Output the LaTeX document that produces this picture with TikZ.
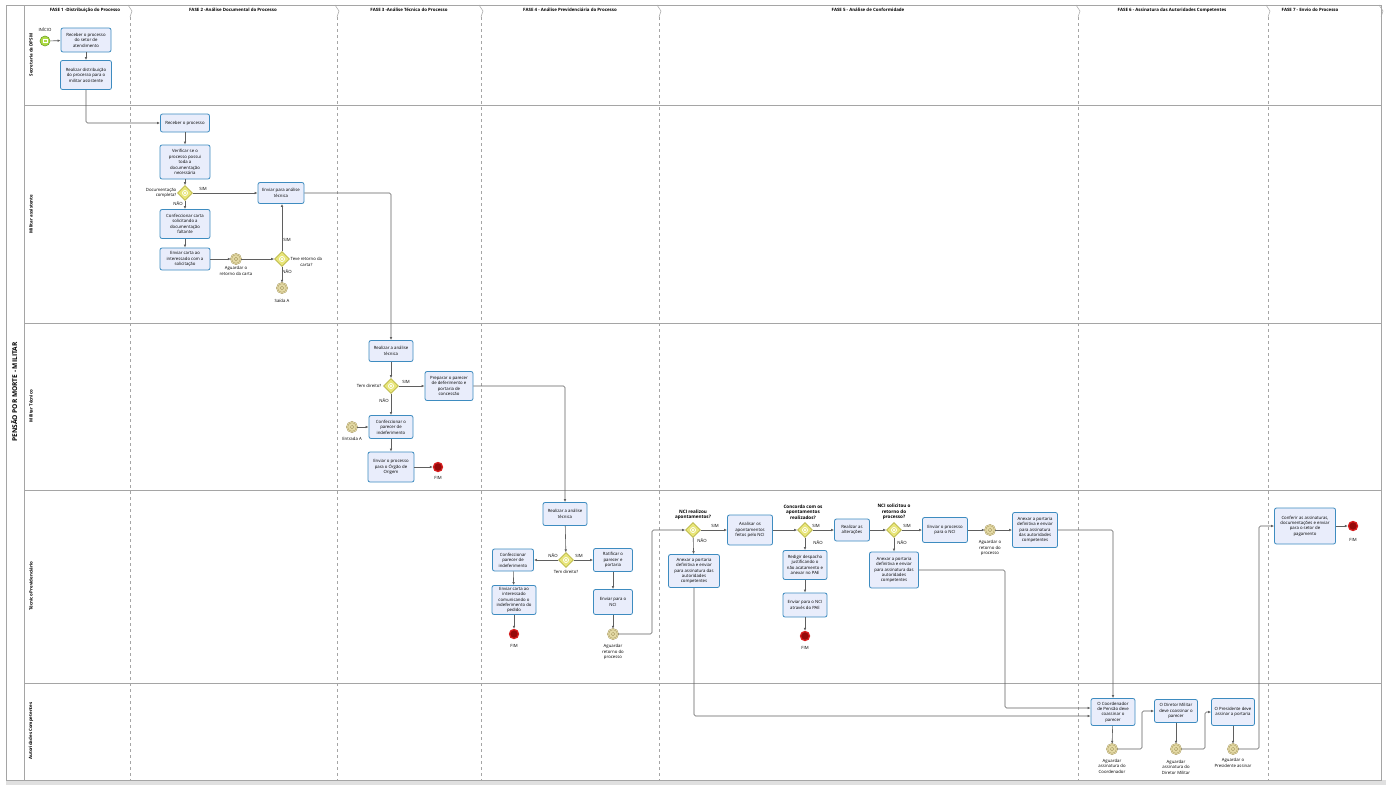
\documentclass[tikz,border=0pt]{standalone}
\usepackage{fontspec}
\setmainfont{Open Sans}
\usetikzlibrary{shapes.geometric,arrows.meta}

\definecolor{taskfill}{RGB}{233,237,251}
\definecolor{taskline}{RGB}{62,140,192}
\definecolor{gatefill}{RGB}{232,229,120}
\definecolor{gateline}{RGB}{185,182,70}
\definecolor{evfill}{RGB}{228,218,165}
\definecolor{evline}{RGB}{165,150,95}
\definecolor{endfill}{RGB}{150,10,10}
\definecolor{endline}{RGB}{215,30,30}
\definecolor{startfill}{RGB}{175,220,70}
\definecolor{startline}{RGB}{110,160,40}
\definecolor{flowline}{RGB}{95,95,95}
\definecolor{poolline}{RGB}{165,165,165}

\newcommand{\bpmnfont}{\fontsize{4.3}{5.4}\selectfont}
\newcommand{\askfont}{\fontsize{4.6}{5.3}\selectfont\bfseries}
\newcommand{\phasefont}{\fontsize{4.4}{5.4}\selectfont\bfseries}
\newcommand{\poolfont}{\fontsize{6.6}{8}\selectfont\bfseries}

\begin{document}
\begin{tikzpicture}[x=1pt,y=-1pt,
  task/.style={draw=taskline,line width=0.8pt,fill=taskfill,rounded corners=2pt,align=center,inner sep=1pt,font=\bpmnfont},
  gate/.style={diamond,draw=gateline,fill=gatefill,line width=0.6pt,minimum size=15pt,inner sep=0pt,
    path picture={\draw[white,line width=0.6pt] (path picture bounding box.center) circle (2.6pt);
      \draw[white,line width=0.5pt] (path picture bounding box.center) +(-1.4pt,-1.4pt) -- +(1.4pt,1.4pt) +(-1.4pt,1.4pt) -- +(1.4pt,-1.4pt);}},
  wait/.style={circle,draw=evline,fill=evfill,line width=0.4pt,double=evfill,double distance=0.8pt,minimum size=10pt,inner sep=0pt,
    path picture={\draw[evline,line width=0.3pt] (path picture bounding box.center) circle (1.8pt);}},
  stop/.style={circle,draw=endline,fill=endfill,line width=1.3pt,minimum size=9pt,inner sep=0pt},
  startev/.style={circle,draw=startline,fill=startfill,line width=0.6pt,minimum size=10pt,inner sep=0pt,
    path picture={\draw[white,line width=0.4pt] ([shift={(-2pt,-1.4pt)}]path picture bounding box.center) rectangle ++(4pt,2.8pt);}},
  lbl/.style={font=\bpmnfont,align=center,inner sep=0.5pt},
  ask/.style={font=\askfont,align=center,inner sep=0.5pt},
  lanetitle/.style={font=\phasefont,rotate=90,inner sep=0.5pt},
  flow/.style={-{Latex[length=3pt,width=2.6pt]},draw=flowline,line width=0.6pt,rounded corners=1.5pt},
  phase/.style={draw=poolline,dashed,line width=0.5pt}]

\useasboundingbox (0,0) rectangle (1386,785);
\fill[white] (0,0) rectangle (1386,785);

% pool, lanes and phases
\fill[black!12] (6,780) rectangle (1386,785);
\draw[poolline,line width=0.6pt] (6,5) rectangle (1381,780);
\draw[poolline,line width=0.6pt] (24,5) -- (24,780);
\foreach \y in {105,323,490,683}
  \draw[poolline,line width=0.6pt] (24,\y) -- (1381,\y);
\foreach \x in {130,337,481,659,1078,1268} {
  \draw[poolline,line width=0.5pt] (\x-2,5) -- (\x+2,11) -- (\x,17);
  \draw[phase] (\x,17) -- (\x,780);
}
\draw[poolline,line width=0.5pt] (1379,5) -- (1383,11) -- (1381,17);

\node[font=\poolfont,rotate=90] (pool) at (14,392) {PENSÃO POR MORTE - MILITAR};
\node[lanetitle] (laneDPSM) at (31,55) {Secretaria da DPSM};
\node[lanetitle] (laneAssist) at (31,214) {Militar assistente};
\node[lanetitle] (laneTec) at (31,406) {Militar Técnico};
\node[lanetitle] (lanePrev) at (31,586) {Técnico Previdenciário};
\node[lanetitle] (laneAut) at (31,731) {Autoridades Competentes};

\node[font=\phasefont] (fase1) at (85,10) {FASE 1 -Distribuição do Processo};
\node[font=\phasefont] (fase2) at (233,10) {FASE 2 -Análise Documental do Processo};
\node[font=\phasefont] (fase3) at (409,10) {FASE 3 -Análise Técnica do Processo};
\node[font=\phasefont] (fase4) at (570,10) {FASE 4 - Análise Previdenciária do Processo};
\node[font=\phasefont] (fase5) at (868,10) {FASE 5 - Análise de Conformidade};
\node[font=\phasefont] (fase6) at (1172,10) {FASE 6 - Assinatura das Autoridades Competentes};
\node[font=\phasefont] (fase7) at (1310,10) {FASE 7 - Envio do Processo};

% points
\path (45,41) node[startev] (inicio) {};
\path (45,30) node[lbl] (inicioL) {INÍCIO};
\path (86,40) node[task,minimum width=50pt,minimum height=24pt] (recebeSetor) {Receber o processo\\do setor de\\atendimento};
\path (86,75) node[task,minimum width=51pt,minimum height=29pt] (distribui) {Realizar distribuição\\do processo para o\\militar assistente};

\path (185,123) node[task,minimum width=49pt,minimum height=18pt] (recebe) {Receber o processo};
\path (185,162) node[task,minimum width=50pt,minimum height=34pt] (verifica) {Verificar se o\\processo possui\\toda a\\documentação\\necessária};
\path (185,193) node[gate] (docOk) {};
\path (177,193) node[lbl,anchor=east,align=right] (docOkL) {Documentação\\completa?};
\path (281,193) node[task,minimum width=46pt,minimum height=21pt] (enviaTec) {Enviar para análise\\técnica};
\path (185,224) node[task,minimum width=50pt,minimum height=29pt] (cartaFalta) {Confeccionar carta\\solicitando a\\documentação\\faltante};
\path (185,259) node[task,minimum width=50pt,minimum height=22pt] (enviaCarta) {Enviar carta ao\\interessado com a\\solicitação};
\path (236,259) node[wait] (aguardaCarta) {};
\path (236,271) node[lbl] (aguardaCartaL) {Aguardar o\\retorno da carta};
\path (282,259) node[gate] (retorno) {};
\path (290,262) node[lbl,anchor=west] (retornoL) {Teve retorno da\\carta?};
\path (282,288) node[wait] (saidaA) {};
\path (282,301) node[lbl] (saidaAL) {Saída A};

\path (391,351) node[task,minimum width=44pt,minimum height=21pt] (analiseTec) {Realizar a análise\\técnica};
\path (391,386) node[gate] (direito) {};
\path (382,386) node[lbl,anchor=east] (direitoL) {Tem direito?};
\path (449,386) node[task,minimum width=48pt,minimum height=29pt] (deferimento) {Preparar o parecer\\de deferimento e\\portaria de\\concessão};
\path (391,427) node[task,minimum width=44pt,minimum height=23pt] (indeferimento) {Confeccionar o\\parecer de\\indeferimento};
\path (352,427) node[wait] (entradaA) {};
\path (352,439) node[lbl] (entradaAL) {Entrada A};
\path (391,467) node[task,minimum width=46pt,minimum height=30pt] (enviaOrigem) {Enviar o processo\\para o Órgão de\\Origem};
\path (438,467) node[stop] (fim1) {};
\path (438,478) node[lbl] (fim1L) {FIM};

\path (565,514) node[task,minimum width=44pt,minimum height=23pt] (analisePrev) {Realizar a análise\\técnica};
\path (566,560) node[gate] (direitoPrev) {};
\path (566,572) node[lbl] (direitoPrevL) {Tem direito?};
\path (513,560) node[task,minimum width=41pt,minimum height=22pt] (indefPrev) {Confeccionar\\parecer de\\indeferimento};
\path (514,600) node[task,minimum width=44pt,minimum height=29pt] (cartaIndef) {Enviar carta ao\\interessado\\comunicando o\\indeferimento do\\pedido};
\path (514,634) node[stop] (fim2) {};
\path (514,646) node[lbl] (fim2L) {FIM};
\path (613,560) node[task,minimum width=39pt,minimum height=23pt] (ratifica) {Ratificar o\\parecer e\\portaria};
\path (613,602) node[task,minimum width=39pt,minimum height=25pt] (enviaNCI) {Enviar para o\\NCI};
\path (613,634) node[wait] (aguardaNCI) {};
\path (613,652) node[lbl] (aguardaNCIL) {Aguardar\\retorno do\\processo};

\path (693,530) node[gate] (apont) {};
\path (693,515) node[ask] (apontL) {NCI realizou\\apontamentos?};
\path (750,530) node[task,minimum width=45pt,minimum height=30pt] (analisaApont) {Analisar os\\apontamentos\\feitos pelo NCI};
\path (694,571) node[task,minimum width=51pt,minimum height=33pt] (anexaA) {Anexar a portaria\\definitiva e enviar\\para assinatura das\\autoridades\\competentes};
\path (805,530) node[gate] (concorda) {};
\path (803,512) node[ask] (concordaL) {Concorda com os\\apontamentos\\realizados?};
\path (852,530) node[task,minimum width=35pt,minimum height=22pt] (alteracoes) {Realizar as\\alterações};
\path (805,565) node[task,minimum width=44pt,minimum height=29pt] (despacho) {Redigir despacho\\justificando o\\não acatamento e\\anexar no PAE};
\path (805,605) node[task,minimum width=44pt,minimum height=24pt] (enviaPAE) {Enviar para o NCI\\através do PAE};
\path (805,636) node[stop] (fim3) {};
\path (805,648) node[lbl] (fim3L) {FIM};
\path (894,530) node[gate] (solicita) {};
\path (894,512) node[ask] (solicitaL) {NCI solicitou o\\retorno do\\processo?};
\path (945,530) node[task,minimum width=45pt,minimum height=25pt] (enviaProc) {Enviar o processo\\para o NCI};
\path (990,530) node[wait] (aguardaProc) {};
\path (990,548) node[lbl] (aguardaProcL) {Aguardar o\\retorno do\\processo};
\path (1035,530) node[task,minimum width=45pt,minimum height=35pt] (anexaB) {Anexar a portaria\\definitiva e enviar\\para assinatura\\das autoridades\\competentes};
\path (894,570) node[task,minimum width=49pt,minimum height=36pt] (anexaC) {Anexar a portaria\\definitiva e enviar\\para assinatura das\\autoridades\\competentes};

\path (1113,712) node[task,minimum width=44pt,minimum height=27pt] (coordenador) {O Coordenador\\de Pensão deve\\coassinar o\\parecer};
\path (1112,749) node[wait] (assCoord) {};
\path (1112,766) node[lbl] (assCoordL) {Aguardar\\assinatura do\\Coordenador};
\path (1176,711) node[task,minimum width=43pt,minimum height=23pt] (diretor) {O Diretor Militar\\deve coassinar o\\parecer};
\path (1176,749) node[wait] (assDir) {};
\path (1176,767) node[lbl] (assDirL) {Aguardar\\assinatura do\\Diretor Militar};
\path (1233,712) node[task,minimum width=43pt,minimum height=27pt] (presidente) {O Presidente deve\\assinar a portaria};
\path (1233,749) node[wait] (assPres) {};
\path (1233,763) node[lbl] (assPresL) {Aguardar o\\Presidente assinar};

\path (1305,526) node[task,minimum width=61pt,minimum height=36pt] (confere) {Conferir as assinaturas,\\documentações e enviar\\para o setor de\\pagamento};
\path (1353,526) node[stop] (fim4) {};
\path (1353,540) node[lbl] (fim4L) {FIM};

% answers
\node[lbl] (sim1) at (203,189) {SIM};
\node[lbl] (nao1) at (178,204) {NÃO};
\node[lbl] (sim2) at (287,240) {SIM};
\node[lbl] (nao2) at (287,272) {NÃO};
\node[lbl] (sim3) at (406,382) {SIM};
\node[lbl] (nao3) at (384,401) {NÃO};
\node[lbl] (nao4) at (553,556) {NÃO};
\node[lbl] (sim4) at (579,556) {SIM};
\node[lbl] (sim5) at (715,526) {SIM};
\node[lbl] (nao5) at (702,541) {NÃO};
\node[lbl] (sim6) at (816,526) {SIM};
\node[lbl] (nao6) at (818,543) {NÃO};
\node[lbl] (sim7) at (907,526) {SIM};
\node[lbl] (nao7) at (902,543) {NÃO};

% edges
\draw[flow] (inicio) -- (recebeSetor);
\draw[flow] (recebeSetor) -- (distribui);
\draw[flow] (distribui.south) |- (recebe.west);
\draw[flow] (recebe) -- (verifica);
\draw[flow] (verifica) -- (docOk);
\draw[flow] (docOk) -- (enviaTec);
\draw[flow] (docOk) -- (cartaFalta);
\draw[flow] (cartaFalta) -- (enviaCarta);
\draw[flow] (enviaCarta) -- (aguardaCarta);
\draw[flow] (aguardaCarta) -- (retorno);
\draw[flow] (retorno) -- (retorno |- enviaTec.south);
\draw[flow] (retorno) -- (saidaA);
\draw[flow] (enviaTec.east) -| (analiseTec.north);
\draw[flow] (analiseTec) -- (direito);
\draw[flow] (direito) -- (deferimento);
\draw[flow] (direito) -- (indeferimento);
\draw[flow] (entradaA) -- (indeferimento);
\draw[flow] (indeferimento) -- (enviaOrigem);
\draw[flow] (enviaOrigem) -- (fim1);
\draw[flow] (deferimento.east) -| (analisePrev.north);
\draw[flow] (analisePrev) -- (direitoPrev);
\draw[flow] (direitoPrev) -- (indefPrev);
\draw[flow] (direitoPrev) -- (ratifica);
\draw[flow] (indefPrev) -- (cartaIndef);
\draw[flow] (cartaIndef) -- (fim2);
\draw[flow] (ratifica) -- (enviaNCI);
\draw[flow] (enviaNCI) -- (aguardaNCI);
\coordinate (dobraA) at (652,530);
\draw[flow] (aguardaNCI.east) -| (dobraA) -- (apont);
\draw[flow] (apont) -- (analisaApont);
\draw[flow] (apont) -- (anexaA);
\draw[flow] (analisaApont) -- (concorda);
\draw[flow] (concorda) -- (alteracoes);
\draw[flow] (concorda) -- (despacho);
\draw[flow] (despacho) -- (enviaPAE);
\draw[flow] (enviaPAE) -- (fim3);
\draw[flow] (alteracoes) -- (solicita);
\draw[flow] (solicita) -- (enviaProc);
\draw[flow] (solicita) -- (anexaC);
\draw[flow] (enviaProc) -- (aguardaProc);
\draw[flow] (aguardaProc) -- (anexaB);
\draw[flow] (anexaB.east) -| (coordenador.north);
\coordinate (dobraB) at (1005,708);
\draw[flow] (anexaC.east) -| (dobraB) -- (dobraB -| coordenador.west);
\draw[flow] (anexaA.south) |- ([yshift=-4pt]coordenador.west);
\draw[flow] (coordenador) -- (assCoord);
\coordinate (dobraC) at (1142,711);
\draw[flow] (assCoord.east) -| (dobraC) -- (diretor.west);
\draw[flow] (diretor) -- (assDir);
\coordinate (dobraD) at (1205,712);
\draw[flow] (assDir.east) -| (dobraD) -- (presidente.west);
\draw[flow] (presidente) -- (assPres);
\coordinate (dobraE) at (1259,526);
\draw[flow] (assPres.east) -| (dobraE) -- (confere.west);
\draw[flow] (confere) -- (fim4);

\end{tikzpicture}
\end{document}
